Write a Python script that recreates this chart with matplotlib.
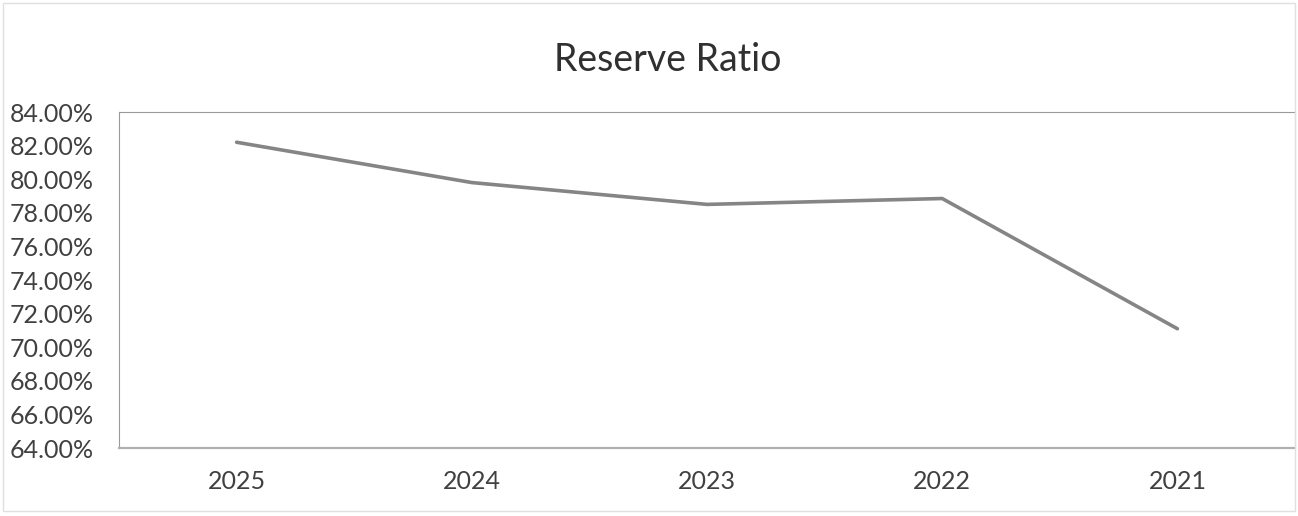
import matplotlib.pyplot as plt
import matplotlib.ticker as mtick

years = ["2025", "2024", "2023", "2022", "2021"]
reserve_ratio = [82.2, 79.8, 78.5, 78.85, 71.1]

plt.rcParams['font.family'] = ['Lato', 'DejaVu Sans']

fig = plt.figure(figsize=(12.98, 5.16), dpi=100)
ax = fig.add_axes([119 / 1298, 1 - 448 / 516, (1295 - 119) / 1298, (448 - 112) / 516])

x = range(len(years))
ax.plot(x, reserve_ratio, color="#858585", linewidth=2.6, solid_capstyle="round")

ax.set_xlim(-0.5, len(years) - 0.5)
ax.set_ylim(64, 84)
ax.set_yticks(range(64, 85, 2))
ax.yaxis.set_major_formatter(mtick.FuncFormatter(lambda v, p: f"{v:.2f}%"))
ax.set_xticks(list(x))
ax.set_xticklabels(years)
ax.tick_params(axis="both", length=0, labelsize=18, colors="#404040")
ax.tick_params(axis="y", pad=18)
ax.tick_params(axis="x", pad=16)

ax.spines["top"].set_linestyle((0, (1, 1)))
ax.spines["top"].set_color("#9a9a9a")
ax.spines["left"].set_linestyle((0, (1, 1)))
ax.spines["left"].set_color("#9a9a9a")
ax.spines["bottom"].set_color("#b0b0b0")
ax.spines["bottom"].set_linewidth(1.6)
ax.spines["right"].set_color("#d8d8d8")

fig.text(668 / 1298, 1 - 60 / 516, "Reserve Ratio", ha="center", va="center",
         fontsize=27, color="#303030")

# faint outer chart border
border = plt.Rectangle((0.002, 0.01), 0.996, 0.985, transform=fig.transFigure,
                       fill=False, edgecolor="#e0e0e0", linewidth=1)
fig.patches.append(border)

fig.savefig("out.png", dpi=100)
